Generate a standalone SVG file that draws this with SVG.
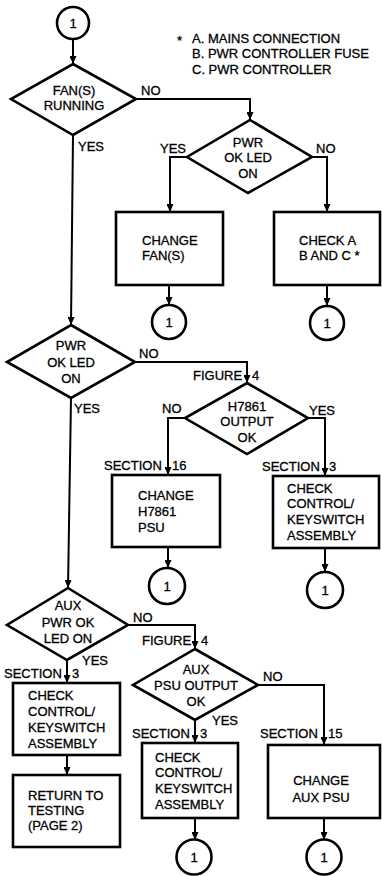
<svg xmlns="http://www.w3.org/2000/svg" width="382" height="876" viewBox="0 0 382 876">
<defs>
<marker id="ah" markerWidth="8" markerHeight="7" refX="8" refY="3.5" orient="auto" markerUnits="userSpaceOnUse">
<path d="M0,0 L8,3.5 L0,7 z" fill="#000"/>
</marker>
<style>
.n{fill:#fff;stroke:#000;stroke-width:2.6}
.c{fill:none;stroke:#000;stroke-width:2;marker-end:url(#ah)}
text{font-family:"Liberation Sans",Arial,Helvetica,sans-serif;font-size:13px;fill:#000;stroke:#000;stroke-width:0.3}
.m{text-anchor:middle}
</style>
</defs>
<rect width="382" height="876" fill="#fff"/>
<g id="connectors">
<path class="c" d="M73,39 L73,64"/>
<path class="c" d="M136,99 L250,99 L250,120"/>
<path class="c" d="M73,135 L71,325"/>
<path class="c" d="M187,157 L170,157 L170,212"/>
<path class="c" d="M312,157 L327,157 L327,212"/>
<path class="c" d="M169,285 L169,305"/>
<path class="c" d="M327,285 L327,306"/>
<path class="c" d="M135,362 L247,362 L247,383"/>
<path class="c" d="M71,398 L68,588"/>
<path class="c" d="M185,418 L168,418 L168,475"/>
<path class="c" d="M308,418 L325,418 L325,476"/>
<path class="c" d="M168,547 L168,568"/>
<path class="c" d="M325,548 L325,572"/>
<path class="c" d="M128,625 L195,625 L195,649"/>
<path class="c" d="M67,660 L67,683"/>
<path class="c" d="M67,755 L67,775"/>
<path class="c" d="M195,720 L195,743"/>
<path class="c" d="M258,685 L324,685 L324,745"/>
<path class="c" d="M195,818 L195,840"/>
<path class="c" d="M324,818 L324,840"/>
</g>
<g id="labels">
<text x="141" y="95">NO</text>
<text x="78" y="151">YES</text>
<text x="160" y="153">YES</text>
<text x="316" y="153">NO</text>
<text x="139" y="358">NO</text>
<text x="74" y="413">YES</text>
<text x="193" y="380">FIGURE</text><text x="252" y="380">4</text>
<text x="162" y="413">NO</text>
<text x="309" y="415">YES</text>
<text x="104" y="470">SECTION</text><text x="172" y="470">16</text>
<text x="262" y="471">SECTION</text><text x="329" y="471">3</text>
<text x="133" y="622">NO</text>
<text x="142" y="645">FIGURE</text><text x="201" y="645">4</text>
<text x="82" y="665">YES</text>
<text x="4" y="678">SECTION</text><text x="72" y="678">3</text>
<text x="263" y="681">NO</text>
<text x="212" y="725">YES</text>
<text x="132" y="738">SECTION</text><text x="200" y="738">3</text>
<text x="260" y="738">SECTION</text><text x="328" y="738">15</text>
</g>
<g id="notes">
<text x="177" y="45">*</text>
<text x="192" y="43">A. MAINS CONNECTION</text>
<text x="192" y="58">B. PWR CONTROLLER FUSE</text>
<text x="192" y="74">C. PWR CONTROLLER</text>
</g>
<g id="start">
<circle class="n" cx="73" cy="23" r="16"/>
<text class="m" x="73" y="28">1</text>
</g>
<g id="fans-running">
<polygon class="n" points="73,64 136,99 73,135 11,99"/>
<text class="m" x="74" y="95">FAN(S)</text>
<text class="m" x="74" y="110">RUNNING</text>
</g>
<g id="pwr-ok-1">
<polygon class="n" points="250,120 312,157 248,193 187,157"/>
<text class="m" x="248" y="147">PWR</text>
<text class="m" x="248" y="162">OK LED</text>
<text class="m" x="248" y="178">ON</text>
</g>
<g id="change-fans">
<rect class="n" x="116" y="212" width="107" height="73"/>
<text x="142" y="245">CHANGE</text>
<text x="142" y="260">FAN(S)</text>
</g>
<g id="check-abc">
<rect class="n" x="274" y="212" width="106" height="73"/>
<text x="299" y="245">CHECK A</text>
<text x="299" y="260">B AND C  *</text>
</g>
<g id="c1a"><circle class="n" cx="169" cy="322" r="17"/><text class="m" x="169" y="327">1</text></g>
<g id="c1b"><circle class="n" cx="327" cy="323" r="17"/><text class="m" x="327" y="328">1</text></g>
<g id="pwr-ok-2">
<polygon class="n" points="71,325 135,362 71,398 7,362"/>
<text class="m" x="71" y="350">PWR</text>
<text class="m" x="71" y="367">OK LED</text>
<text class="m" x="71" y="383">ON</text>
</g>
<g id="h7861-ok">
<polygon class="n" points="247,383 308,418 247,454 185,418"/>
<text class="m" x="247" y="411">H7861</text>
<text class="m" x="247" y="426">OUTPUT</text>
<text class="m" x="247" y="442">OK</text>
</g>
<g id="change-h7861">
<rect class="n" x="112" y="475" width="108" height="72"/>
<text x="138" y="500">CHANGE</text>
<text x="138" y="516">H7861</text>
<text x="138" y="532">PSU</text>
</g>
<g id="check-ctrl-1">
<rect class="n" x="273" y="476" width="106" height="72"/>
<text x="287" y="493">CHECK</text>
<text x="287" y="508">CONTROL/</text>
<text x="287" y="524">KEYSWITCH</text>
<text x="287" y="540">ASSEMBLY</text>
</g>
<g id="c1c"><circle class="n" cx="167" cy="586" r="18"/><text class="m" x="167" y="591">1</text></g>
<g id="c1d"><circle class="n" cx="325" cy="590" r="18"/><text class="m" x="325" y="595">1</text></g>
<g id="aux-pwr-ok">
<polygon class="n" points="68,588 128,625 67,660 7,625"/>
<text class="m" x="68" y="610">AUX</text>
<text class="m" x="68" y="627">PWR OK</text>
<text class="m" x="68" y="643">LED ON</text>
</g>
<g id="aux-psu-ok">
<polygon class="n" points="195,649 258,685 195,720 133,685"/>
<text class="m" x="196" y="674">AUX</text>
<text class="m" x="196" y="690">PSU OUTPUT</text>
<text class="m" x="196" y="706">OK</text>
</g>
<g id="check-ctrl-2">
<rect class="n" x="13" y="683" width="107" height="72"/>
<text x="28" y="700">CHECK</text>
<text x="28" y="716">CONTROL/</text>
<text x="28" y="732">KEYSWITCH</text>
<text x="28" y="748">ASSEMBLY</text>
</g>
<g id="return-testing">
<rect class="n" x="13" y="775" width="107" height="72"/>
<text x="28" y="800">RETURN TO</text>
<text x="28" y="815">TESTING</text>
<text x="28" y="830">(PAGE 2)</text>
</g>
<g id="check-ctrl-3">
<rect class="n" x="142" y="743" width="96" height="75"/>
<text x="155" y="762">CHECK</text>
<text x="155" y="777">CONTROL/</text>
<text x="155" y="793">KEYSWITCH</text>
<text x="155" y="809">ASSEMBLY</text>
</g>
<g id="change-aux">
<rect class="n" x="268" y="745" width="112" height="73"/>
<text class="m" x="321" y="785">CHANGE</text>
<text class="m" x="321" y="802">AUX PSU</text>
</g>
<g id="c1e"><circle class="n" cx="194" cy="857" r="17.5"/><text class="m" x="194" y="862">1</text></g>
<g id="c1f"><circle class="n" cx="324" cy="857" r="17.5"/><text class="m" x="324" y="862">1</text></g>
</svg>
